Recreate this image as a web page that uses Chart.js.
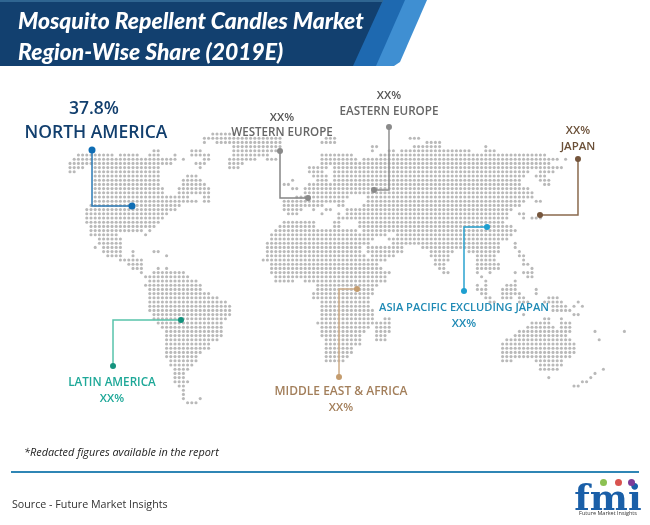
<!DOCTYPE html>
<html>
<head>
<meta charset="utf-8">
<title>Mosquito Repellent Candles Market</title>
<script src="https://cdn.jsdelivr.net/npm/chart.js@4"></script>
<style>
html, body { margin: 0; padding: 0; background: #fff; }
#page { position: relative; width: 650px; height: 525px; overflow: hidden; font-family: "Open Sans", sans-serif; }
#mapChart { position: absolute; left: 0; top: 0; }
.band { position: absolute; left: 0; top: 0; width: 440px; height: 66px; }
#bandLight { background: #3f8fd2; clip-path: polygon(0 0, 427px 0, 400px 62px, 394px 66px, 0 66px); }
#bandMid { background: #1e69b0; clip-path: polygon(0 0, 405px 0, 376px 66px, 0 66px); }
#bandDark { background: #12406f; clip-path: polygon(0 0, 383px 0, 353px 66px, 0 66px); }
#bandTop { position: absolute; left: 0; top: 0; width: 383px; height: 2px; background: #2f6591; }
#title { position: absolute; left: 18px; top: 5px; color: #fff; font: italic 900 22.9px/31px Lato, sans-serif; white-space: nowrap; }
.lbl { position: absolute; transform: translate(-50%, -50%); white-space: nowrap; font-weight: 600; }
#note { position: absolute; left: 24px; top: 444px; font: italic 10.9px "Open Sans", sans-serif; color: #222; white-space: nowrap; }
#rule { position: absolute; left: 11px; top: 471px; width: 628px; height: 2px; background: #2f86b5; }
#source { position: absolute; left: 12px; top: 497px; font: 10.7px "Open Sans", sans-serif; color: #333; white-space: nowrap; }
#logo { position: absolute; left: 571px; top: 479px; width: 74px; text-align: center; color: #1a5fa8; font: 700 36px/36px "DejaVu Serif", serif; }
#logoSub { position: absolute; left: 571px; top: 509px; width: 74px; text-align: center; color: #333; font: 5.5px "Open Sans", sans-serif; white-space: nowrap; }
.ball { position: absolute; width: 7px; height: 7px; border-radius: 50%; top: 479px; }
</style>
</head>
<body>
<div id="page">
    <canvas id="mapChart" width="650" height="525"></canvas>
    <div class="band" id="bandLight"></div>
    <div class="band" id="bandMid"></div>
    <div class="band" id="bandDark"></div>
    <div id="bandTop"></div>
    <div id="title">Mosquito Repellent Candles Market<br>Region-Wise Share (2019E)</div>
    <div id="labels"></div>
    <div id="note">*Redacted figures available in the report</div>
    <div id="rule"></div>
    <div id="source">Source - Future Market Insights</div>
    <div id="logo">fmi</div>
    <div class="ball" style="left:600px;background:#8cc152"></div>
    <div class="ball" style="left:615px;background:#d9534f"></div>
    <div class="ball" style="left:628px;background:#7d3c98"></div>
    <div id="logoSub">Future Market Insights</div>
</div>
<script>
// regions and their shares as printed on the picture
const regionNames = ['NORTH AMERICA', 'WESTERN EUROPE', 'EASTERN EUROPE', 'JAPAN', 'ASIA PACIFIC EXCLUDING JAPAN', 'MIDDLE EAST & AFRICA', 'LATIN AMERICA'];
const regionShares = ['37.8%', 'XX%', 'XX%', 'XX%', 'XX%', 'XX%', 'XX%'];

// dot map: one entry per grid row, pairs of first/last column of each run of land
const mapRows = [
    [34,39],
    [32,50, 61,63, 81,83],
    [32,32, 35,50, 60,63, 85,88],
    [39,50, 72,73, 82,88, 99,99],
    [20,21, 29,31, 39,49, 72,72, 76,77, 79,95, 99,101],
    [2,10, 12,16, 19,21, 25,25, 29,33, 39,47, 60,67, 74,113],
    [1,25, 27,27, 32,33, 38,44, 47,49, 60,68, 70,116, 118,118],
    [0,24, 30,32, 38,41, 60,68, 69,114],
    [0,3, 6,21, 31,31, 38,40, 57,61, 63,117],
    [0,1, 6,21, 57,60, 63,109, 112,115],
    [6,21, 28,30, 58,61, 63,108, 111,113],
    [6,21, 27,31, 53,53, 59,61, 63,107, 112,114],
    [6,21, 27,32, 51,52, 57,59, 60,107, 113,114],
    [6,22, 26,33, 53,54, 56,57, 58,109],
    [6,22, 26,33, 56,110],
    [6,28, 32,33, 54,66, 71,110],
    [6,30, 32,33, 51,53, 54,65, 71,108, 111,112],
    [5,26, 51,54, 55,60, 64,65, 70,107],
    [4,25, 51,55, 58,58, 61,62, 66,105],
    [4,23, 52,54, 60,60, 64,64, 66,104, 107,108],
    [4,22, 64,104, 108,108, 110,112],
    [4,21, 51,58, 63,64, 69,103],
    [5,20, 50,58, 63,64, 69,105],
    [5,17, 19,19, 49,68, 70,106],
    [5,11, 18,18, 48,75, 78,105],
    [7,12, 48,72, 76,104],
    [7,12, 47,71, 77,102, 106,106],
    [6,6, 8,12, 47,69, 71,79, 84,102, 106,106],
    [8,12, 15,15, 20,21, 47,69, 71,79, 86,91, 95,102, 107,107],
    [9,12, 15,15, 23,23, 47,70, 72,77, 86,90, 97,101, 107,108],
    [12,17, 46,72, 73,75, 87,90, 97,101, 108,108],
    [14,17, 48,73, 87,89, 97,102, 108,109],
    [15,17, 21,21, 23,23, 48,74, 88,89, 97,102, 110,110],
    [17,17, 20,27, 48,76, 89,90, 97,97, 100,100, 106,106, 108,110],
    [18,28, 49,75, 98,98, 109,110],
    [19,30, 49,53, 56,75, 99,99, 106,106],
    [18,31, 59,73, 97,97, 99,99, 104,106],
    [19,31, 59,72, 97,99, 103,106, 111,111],
    [19,33, 58,72, 98,99, 103,107, 111,111],
    [19,35, 58,71, 99,100, 103,105, 107,108, 114,116],
    [19,37, 60,71, 100,101, 107,109, 113,117, 121,121],
    [19,38, 60,71, 115,118, 120,120, 122,122],
    [19,38, 60,72, 115,119],
    [20,38, 60,72, 108,108, 120,121],
    [20,37, 60,72, 75,76, 113,114, 117,117],
    [21,36, 59,72, 73,76, 110,114, 117,119],
    [22,36, 60,71, 73,76, 109,115, 117,119],
    [23,36, 60,70, 73,76, 107,119, 125,125, 132,132],
    [23,36, 60,69, 73,75, 106,118],
    [23,35, 61,69, 73,75, 104,119, 126,126],
    [23,33, 61,69, 103,120],
    [23,33, 61,67, 103,120],
    [23,31, 61,67, 103,120],
    [23,30, 61,66, 103,119],
    [24,30, 61,65, 103,105, 111,117],
    [24,29, 112,117],
    [25,28, 112,116, 127,127],
    [25,27, 125,125],
    [25,27, 114,114, 124,124],
    [25,28, 122,123],
    [26,27, 120,121],
    [27,27],
    [27,27],
    [27,27, 31,31],
    [28,30]
];

// leader lines in map grid units: pin, elbow, target
const leaderNorthAmerica = [[5.24,3.81], [5.24,17.14], [14.76,17.14]];
const leaderWesternEurope = [[50,4.05], [50,15.24], [56.67,15.24]];
const leaderEasternEurope = [[75.95,-1.67], [75.95,13.33], [72.38,13.33]];
const leaderJapan = [[120.95,5.95], [120.95,19.29], [111.9,19.29]];
const leaderAsiaPacific = [[93.81,37.38], [93.81,22.14], [99.29,22.14]];
const leaderMiddleEast = [[64.05,57.86], [64.05,36.9], [68.33,36.9]];
const leaderLatinAmerica = [[10.24,55.24], [10.24,44.29], [26.43,44.29]];

// expand the runs into one point per dot
const mapDots = [];
mapRows.forEach((runs, row) => {
    for (let i = 0; i < runs.length; i += 2) {
        for (let col = runs[i]; col <= runs[i + 1]; col++) {
            mapDots.push({ x: col, y: row });
        }
    }
});

function leaderDataset(points, lineColor, pinColor, pinSize) {
    return {
        data: points.map(p => ({ x: p[0], y: p[1] })),
        showLine: true,
        borderColor: lineColor,
        borderWidth: 1.5,
        pointRadius: [pinSize, 0, pinSize],
        pointBackgroundColor: pinColor,
        pointBorderWidth: 0
    };
}

new Chart(document.getElementById('mapChart').getContext('2d'), {
    type: 'scatter',
    data: {
        datasets: [
            leaderDataset(leaderNorthAmerica, '#2b7ab5', '#0f6db4', 3.5),
            leaderDataset(leaderWesternEurope, '#858585', '#8a8a8a', 3),
            leaderDataset(leaderEasternEurope, '#909090', '#8a8a8a', 3),
            leaderDataset(leaderJapan, '#8a6a4e', '#75553c', 3),
            leaderDataset(leaderAsiaPacific, '#2ba3cf', '#1d9fd0', 3),
            leaderDataset(leaderMiddleEast, '#cfae8a', '#c49c6e', 3),
            leaderDataset(leaderLatinAmerica, '#58c3ab', '#14937e', 3),
            {
                data: mapDots,
                pointRadius: 1.55,
                pointBackgroundColor: '#b9b9b9',
                pointBorderWidth: 0
            }
        ]
    },
    options: {
        responsive: false,
        animation: false,
        layout: { padding: 0, autoPadding: false },
        plugins: { legend: { display: false }, tooltip: { enabled: false } },
        scales: {
            x: { type: 'linear', display: false, min: -16.667, max: 138.095 },
            y: { type: 'linear', display: false, reverse: true, min: -31.905, max: 93.095 }
        }
    }
});

// text around the map, in the order of regionNames
const labelsEl = document.getElementById('labels');
function addLabel(text, cx, cy, size, color) {
    const el = document.createElement('div');
    el.className = 'lbl';
    el.textContent = text;
    el.style.left = cx + 'px';
    el.style.top = cy + 'px';
    el.style.fontSize = size + 'px';
    el.style.color = color;
    labelsEl.appendChild(el);
}
addLabel(regionShares[0], 94, 107, 17.5, '#123f6e');
addLabel(regionNames[0], 96, 131, 17.5, '#123f6e');
addLabel(regionShares[1], 282, 116, 11.5, '#555');
addLabel(regionNames[1], 282, 131, 11.6, '#666');
addLabel(regionShares[2], 389, 94, 11.5, '#555');
addLabel(regionNames[2], 389, 110, 11.7, '#666');
addLabel(regionShares[3], 578, 129, 11.5, '#6b5038');
addLabel(regionNames[3], 578, 145, 11.5, '#6b5038');
addLabel(regionNames[4], 464, 306, 11.1, '#1f8ab5');
addLabel(regionShares[4], 464, 322, 11.5, '#1f8ab5');
addLabel(regionNames[5], 341, 390, 12, '#a37f5b');
addLabel(regionShares[5], 341, 406, 11.5, '#a37f5b');
addLabel(regionNames[6], 112, 381, 11.7, '#1ea898');
addLabel(regionShares[6], 112, 397, 11.5, '#1ea898');
</script>
</body>
</html>
